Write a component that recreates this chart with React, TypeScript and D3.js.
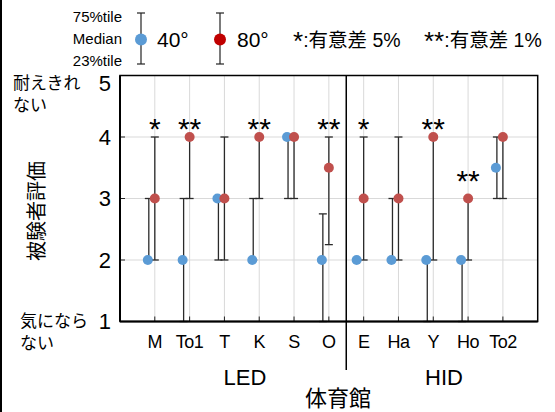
import { useRef, useEffect } from "react";
import * as d3 from "d3";

// categories (LED: 6 gyms, HID: 5 gyms)
const categories = ["M", "To1", "T", "K", "S", "O", "E", "Ha", "Y", "Ho", "To2"];

// 40° : median, 23%tile, 75%tile
const median40 = [2, 2, 3, 2, 4, 2, 2, 2, 2, 2, 3.5];
const low40 = [2, 1, 2, 2, 3, 1, 2, 2, 1, 1, 3];
const high40 = [3, 3, 3, 3, 4, 2.75, 2, 3, 2, 2, 4];

// 80°
const median80 = [3, 4, 3, 4, 4, 3.5, 3, 3, 4, 3, 4];
const low80 = [2, 3, 2, 3, 3, 2.25, 2, 2, 2, 2, 3];
const high80 = [4, 4, 4, 4, 4, 4, 4, 4, 4, 3, 4];

// significance marks and where they sit
const sigMarks = ["*", "**", "", "**", "", "**", "*", "", "**", "**", ""];
const sigPos = [4.25, 4.25, 0, 4.25, 0, 4.25, 4.25, 0, 4.25, 3.4, 0];

const yTicks = [1, 2, 3, 4, 5];

const width = 555,
  height = 412,
  marginLeft = 120,
  plotRight = 537.7,
  plotTop = 75.5,
  plotBottom = 321.5;

const latin = "'Liberation Sans', Arial, sans-serif";
const cjk = "'Liberation Sans', 'Noto Sans CJK JP', sans-serif";
const blue = "#5b9bd5";
const red = "#c0504d";

function App() {
  const gRef = useRef<SVGGElement>(null);

  const x = d3.scalePoint().domain(categories).range([marginLeft, plotRight]).padding(1);
  const y = d3.scaleLinear().domain([1, 5]).range([plotBottom, plotTop]);

  useEffect(() => {
    const g = d3.select(gRef.current);
    g.selectAll("*").remove();

    // grid
    g.append("g")
      .selectAll("line")
      .data([2, 3, 4])
      .join("line")
      .attr("x1", marginLeft)
      .attr("x2", plotRight)
      .attr("y1", (d) => y(d))
      .attr("y2", (d) => y(d))
      .attr("stroke", "#d9d9d9");
    g.append("g")
      .selectAll("line")
      .data(categories)
      .join("line")
      .attr("x1", (d) => x(d)!)
      .attr("x2", (d) => x(d)!)
      .attr("y1", plotTop)
      .attr("y2", plotBottom)
      .attr("stroke", "#d9d9d9");

    // inward ticks
    g.append("g")
      .selectAll("line")
      .data(categories)
      .join("line")
      .attr("x1", (d) => x(d)!)
      .attr("x2", (d) => x(d)!)
      .attr("y1", plotBottom)
      .attr("y2", plotBottom - 5)
      .attr("stroke", "#222");
    g.append("g")
      .selectAll("line")
      .data(yTicks)
      .join("line")
      .attr("x1", marginLeft)
      .attr("x2", marginLeft + 5)
      .attr("y1", (d) => y(d))
      .attr("y2", (d) => y(d))
      .attr("stroke", "#222");

    const series = [
      { med: median40, lo: low40, hi: high40, color: blue, dx: -7, wx: -6 },
      { med: median80, lo: low80, hi: high80, color: red, dx: 0, wx: 0 },
    ];

    series.forEach((s) => {
      const wg = g.append("g").attr("stroke", "#2a2a2a").attr("stroke-width", 1.3);
      categories.forEach((c, i) => {
        const cx = x(c)! + s.wx;
        if (s.hi[i] === s.lo[i]) return;
        wg.append("line")
          .attr("x1", cx)
          .attr("x2", cx)
          .attr("y1", y(s.lo[i]))
          .attr("y2", y(s.hi[i]));
        [s.lo[i], s.hi[i]].forEach((v) => {
          wg.append("line")
            .attr("x1", cx - 4)
            .attr("x2", cx + 4)
            .attr("y1", y(v))
            .attr("y2", y(v));
        });
      });
    });

    series.forEach((s) => {
      g.append("g")
        .selectAll("circle")
        .data(categories)
        .join("circle")
        .attr("cx", (d) => x(d)! + s.dx)
        .attr("cy", (d, i) => y(s.med[i]))
        .attr("r", 5)
        .attr("fill", s.color);
    });

    // significance stars
    g.append("g")
      .selectAll("text")
      .data(categories.filter((d, i) => sigMarks[i]))
      .join("text")
      .attr("x", (d) => x(d)!)
      .attr("y", (d) => y(sigPos[categories.indexOf(d)]) + 17)
      .attr("text-anchor", "middle")
      .attr("font-family", latin)
      .attr("font-size", 30)
      .text((d) => sigMarks[categories.indexOf(d)]);

    // frame
    g.append("rect")
      .attr("x", marginLeft)
      .attr("y", plotTop)
      .attr("width", plotRight - marginLeft)
      .attr("height", plotBottom - plotTop)
      .attr("fill", "none")
      .attr("stroke", "#000")
      .attr("stroke-width", 1.5);
    g.append("line")
      .attr("x1", marginLeft)
      .attr("x2", plotRight)
      .attr("y1", plotBottom)
      .attr("y2", plotBottom)
      .attr("stroke", "#000")
      .attr("stroke-width", 2);
    g.append("line")
      .attr("x1", marginLeft)
      .attr("x2", marginLeft)
      .attr("y1", plotTop)
      .attr("y2", plotBottom)
      .attr("stroke", "#000")
      .attr("stroke-width", 2);

    // LED / HID divider
    const divX = (x("O")! + x("E")!) / 2;
    g.append("line")
      .attr("x1", divX)
      .attr("x2", divX)
      .attr("y1", plotTop)
      .attr("y2", 370)
      .attr("stroke", "#000")
      .attr("stroke-width", 1.5);

    // y tick labels
    g.append("g")
      .selectAll("text")
      .data(yTicks)
      .join("text")
      .attr("x", 111)
      .attr("y", (d) => y(d) + (d === 5 ? 7.5 : 0))
      .attr("dy", "0.35em")
      .attr("text-anchor", "end")
      .attr("font-family", latin)
      .attr("font-size", 22)
      .text((d) => d);

    // x tick labels
    g.append("g")
      .selectAll("text")
      .data(categories)
      .join("text")
      .attr("x", (d) => x(d)!)
      .attr("y", 348)
      .attr("text-anchor", "middle")
      .attr("font-family", latin)
      .attr("font-size", 18)
      .attr("letter-spacing", -0.5)
      .text((d) => d);
  }, [x, y]);

  const legend = [
    { cx: 141, color: blue, label: "40°", tx: 157 },
    { cx: 220, color: "#c00000", label: "80°", tx: 237 },
  ];

  return (
    <svg
      width={width}
      height={height}
      style={{ position: "absolute", left: 0, top: 0, background: "#fff" }}
    >
      <line x1={1} x2={1} y1={0} y2={height} stroke="#000" strokeWidth={2} />
      <g ref={gRef} />

      {/* legend */}
      <g fontFamily={latin} fontSize={15} textAnchor="end">
        <text x={122} y={22}>75%tile</text>
        <text x={122} y={44}>Median</text>
        <text x={122} y={66}>23%tile</text>
      </g>
      {legend.map((l) => (
        <g key={l.label}>
          <g stroke="#222" strokeWidth={1.2}>
            <line x1={l.cx} x2={l.cx} y1={13} y2={64} />
            <line x1={l.cx - 4} x2={l.cx + 4} y1={13} y2={13} />
            <line x1={l.cx - 4} x2={l.cx + 4} y1={64} y2={64} />
          </g>
          <circle cx={l.cx} cy={39.5} r={6} fill={l.color} />
          <text x={l.tx} y={47} fontFamily={latin} fontSize={21}>
            {l.label}
          </text>
        </g>
      ))}
      <text x={293} y={47} fontFamily={cjk} fontSize={19.5}>
        <tspan fontSize={26} dy={3}>*</tspan>
        <tspan dy={-3}>:有意差 5%</tspan>
      </text>
      <text x={424} y={47} fontFamily={cjk} fontSize={19.5}>
        <tspan fontSize={26} dy={3}>**</tspan>
        <tspan dy={-3}>:有意差 1%</tspan>
      </text>

      {/* y labels */}
      <g fontFamily={cjk} fontSize={17}>
        <text x={13} y={89}>耐えきれ</text>
        <text x={13} y={111}>ない</text>
        <text x={20} y={327}>気になら</text>
        <text x={20} y={349}>ない</text>
      </g>
      <text
        transform="translate(44,211) rotate(-90)"
        textAnchor="middle"
        fontFamily="'Noto Sans CJK JP', sans-serif"
        fontSize={20}
      >
        被験者評価
      </text>

      {/* group labels */}
      <g fontFamily={cjk} fontSize={22} textAnchor="middle">
        <text x={245} y={385}>LED</text>
        <text x={444} y={385}>HID</text>
        <text x={338} y={406}>体育館</text>
      </g>
    </svg>
  );
}

export default App;
